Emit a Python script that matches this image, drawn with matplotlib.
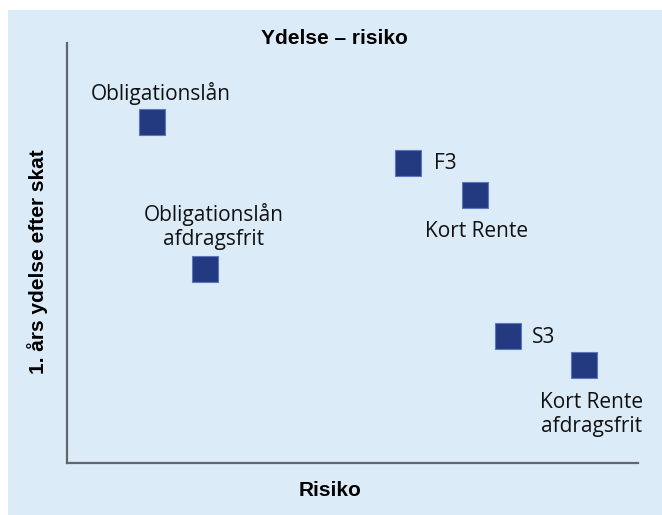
import matplotlib
matplotlib.use("Agg")
import matplotlib.pyplot as plt
from matplotlib.patches import Rectangle

# data (risiko, ydelse), arbitrary units 0-10
labels = ["Obligationslån", "Obligationslån\nafdragsfrit", "F3", "Kort Rente", "S3",
          "Kort Rente\nafdragsfrit"]
risiko = [1.48, 2.42, 5.97, 7.14, 7.73, 9.06]
ydelse = [8.11, 4.61, 7.14, 6.38, 3.02, 2.33]

# label offset (points) and alignment per point
offsets = [(6.5, 21), (6, 31), (19, 0), (1, -26), (17, -1), (5, -35.5)]
aligns = ["center", "center", "left", "center", "left", "center"]

bg = "#dcebf8"
navy = "#233a80"

fig = plt.figure(figsize=(6.62, 5.15), dpi=100)
fig.patch.set_facecolor("white")
fig.patches.append(Rectangle((8 / 662, 0), 1, 1 - 10 / 515, transform=fig.transFigure,
                             facecolor=bg, edgecolor="none", zorder=-10))

ax = fig.add_axes([67 / 662, 52 / 515, (638 - 67) / 662, (463 - 43) / 515])
ax.patch.set_visible(False)
ax.set_zorder(5)

ax.scatter(risiko, ydelse, marker="s", s=19 ** 2, color=navy, edgecolor="#5b78bd",
           linewidth=0.8, zorder=3, clip_on=False)

for lab, x, y, off, ha in zip(labels, risiko, ydelse, offsets, aligns):
    ax.annotate(lab, (x, y), xytext=off, textcoords="offset points", ha=ha, va="center",
                fontsize=15, family="Open Sans", color="#111111", linespacing=1.2)

ax.set_xlim(0, 10)
ax.set_ylim(0, 10)
ax.set_xticks([])
ax.set_yticks([])
for s in ["top", "right"]:
    ax.spines[s].set_visible(False)
for s in ["left", "bottom"]:
    ax.spines[s].set_color("#5f666d")
    ax.spines[s].set_linewidth(1.6)

fig.text(334 / 662, 1 - 39 / 515, "Ydelse – risiko", ha="center", va="center",
         fontsize=15, fontweight="bold", family="Liberation Sans")
fig.text(330 / 662, 1 - 491 / 515, "Risiko", ha="center", va="center",
         fontsize=15, fontweight="bold", family="Liberation Sans")
fig.text(38 / 662, 1 - 262 / 515, "1. års ydelse efter skat", ha="center", va="center",
         rotation=90, fontsize=15, fontweight="bold", family="Liberation Sans")

fig.savefig("out.png", dpi=100, facecolor=fig.get_facecolor())
